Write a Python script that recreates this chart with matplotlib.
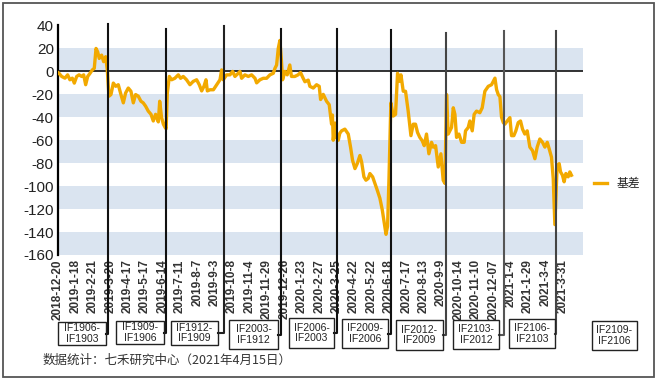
import matplotlib
matplotlib.use("Agg")
import matplotlib.pyplot as plt
from matplotlib.patches import Rectangle
from matplotlib.lines import Line2D

# ---------------- data ----------------
# trading-day index (0 = 2018-12-20) and basis value
day_index = [0, 1, 4, 7.6, 10.5, 13, 15.6, 17.8, 20.4, 23, 25.8, 28, 30.2, 32.4, 35, 37.5, 39.6,
             41.5, 43.3, 45, 47.6, 49.8, 52, 53.8, 55.6, 57.8, 60.4, 63, 65.8, 68.7, 71.3, 73.8,
             76.7, 79.6, 82.2, 84.7, 87.6, 90.5, 93, 95.6, 98.5, 101.5, 104, 106.5, 109.5, 111,
             113, 115, 117,
             118, 119.3, 121.5, 124, 127.5, 131.3, 133.8, 136.7, 140.3, 144, 147.6, 151.3, 154.2,
             156.8, 159.3, 161.5, 163, 166, 169.6, 173.2, 176.8, 178.6, 180.4, 184, 187.7, 190.6,
             193.1, 196.8, 198.6, 200.4, 204, 207.7, 211.3, 215, 216.8, 220.4, 224, 227.7, 231.3,
             235, 236.8, 238.6, 240.4, 242.2,
             243.8, 245.1, 247.7, 250.2, 253, 254.8, 258.5, 262, 264.7, 267.6, 269.5, 273.1, 274.9,
             278.6, 282.2, 285.1, 286.6, 289.5, 293.1, 296, 298.6, 299.5, 300.4, 302.5, 304, 305.9,
             307.5, 309.5, 313.1, 316.8, 319.3, 321.5, 324.1, 326.6, 329.5, 331.4, 333.9, 336.1,
             338.6, 340.4, 343.4, 345.9, 348.4, 351.3, 353.9, 356.1, 358, 359.7, 361.2,
             363.3, 365.9, 368.4, 370.6, 372.4, 374.3, 376.8, 379.3, 382.2, 385.2, 387.7, 390.2,
             392.4, 394.9, 397.5, 399.7, 402.2, 404.8, 407.7, 409.5, 412.1, 415, 417.9, 420.4,
             422.3, 424.1, 425.9, 427.7, 429.5, 431.4, 433.2, 435, 437.6, 440.5, 443.3, 444.8,
             447.7, 449.5, 452.1, 454.2, 456.8, 460.4, 463, 465.9, 469.6, 473.2, 476.9, 478.7,
             480.5, 482.3, 484.1, 486,
             487.7, 490.3, 493.2, 495, 497.5, 499.7, 502.3, 504.8, 507, 509.5, 512.1, 515, 517.9,
             520.5, 523, 525.9, 528.8, 531.4, 534, 536.1, 538.6, 540.5, 542.3, 543.4, 544.8, 547,
             548.5, 550.6, 552.4, 554.3, 556.8, 558.6, 560.4]

basis = [-1, -1.6, -4.4, -5.9, -3, -7.3, -5.9, -10.2, -4.4, -3, -4.4, -3, -11.6, -4.4, -1.6, 1.3, 2.7,
         20, 17, 11.3, 14.2, 8.5, 12.8, 1.3, -21.6, -20.2, -10.2, -13, -11.6, -20.2, -27.4, -18.8,
         -14.5, -17.3, -27.4, -20.2, -21.6, -26, -27.4, -30.3, -34.6, -37.4, -43.2, -37.4, -44, -26,
         -40, -46, -49,
         -50, -19, -4.4, -7.3, -6, -3, -6, -4.4, -7.3, -11.6, -8.7, -7.3, -11.6,
         -17, -13, -7.3, -17, -16, -16, -11.6, -7.3, 1.3, -7.3, -3, -3, 0,
         -4.4, -1.6, 0, -6, -3, -4.4, -3, -6, -10, -7.3, -6, -6, -3,
         -1.6, 2.7, 5.6, 20, 27,
         10, -7.3, 0, -3, 5.6, -4.4, -4.4, -3, -1, -6, -9, -7.6, -13,
         -14.5, -11.6, -13, -24.5, -20, -26, -29, -46, -38, -60, -45, -58, -60,
         -54, -51.8, -50.3, -54.6, -66, -77.5, -84.7, -80.4, -73.3, -79, -91.9, -94.8,
         -93.3, -89, -91.9, -97.6, -103.4, -110.5, -120.6, -132, -142, -134.9, -94.8,
         -27.4, -38.9, -37.4, -1.6, -8.7, -3, -17.3, -17.3, -34.6, -56, -46, -46,
         -53.2, -57.5, -60.4, -64.7, -54.6, -71.8, -61.8, -66, -64.7, -83.3, -71.8, -94.8,
         -97.6, -20.2, -54.6, -51.8, -48.9, -31.7, -37.4, -57.5, -54.6, -61.8, -61.8, -51.8,
         -48.9, -43.2, -51.8, -37.4, -34.6, -36, -31.7, -17.3, -13, -11.6, -5.9, -15.9,
         -20.2, -22, -40, -44.6,
         -46, -43.2, -40.3, -56, -56, -51.8, -44.6, -43.2, -50.3, -54.6, -51.8, -66, -69,
         -76.1, -66, -58.9, -61.8, -66, -61.8, -67.5, -74.7, -93.3, -133.5, -110.5, -81.9, -80.4,
         -87.6, -90.5, -96.2, -89, -91.9, -87.6, -90.5]

tick_labels = ["2018-12-20", "2019-1-18", "2019-2-21", "2019-3-20", "2019-4-17", "2019-5-17",
               "2019-6-14", "2019-7-11", "2019-8-7", "2019-9-3", "2019-10-8", "2019-11-4",
               "2019-11-29", "2019-12-26", "2020-1-23", "2020-2-27", "2020-3-25", "2020-4-22",
               "2020-5-22", "2020-6-18", "2020-7-17", "2020-8-13", "2020-9-9", "2020-10-14",
               "2020-11-10", "2020-12-07", "2021-1-4", "2021-1-29", "2021-3-4", "2021-3-31"]
tick_step = 19  # trading days between labels

# contract roll days (trading-day index) and spread contract labels
roll_index = [54.5, 118, 181, 243, 305, 363, 423, 487, 544]
contract_labels = ["IF1906-\nIF1903", "IF1909-\nIF1906", "IF1912-\nIF1909", "IF2003-\nIF1912",
                   "IF2006-\nIF2003", "IF2009-\nIF2006", "IF2012-\nIF2009", "IF2103-\nIF2012",
                   "IF2106-\nIF2103", "IF2109-\nIF2106"]

series_name = "基差"
source_text = "数据统计：七禾研究中心（2021年4月15日）"

# ---------------- layout / style ----------------
W, H = 658, 381
LINE_COLOR = "#F2A900"
BAND_COLOR = "#dae4f0"
TXT = "#222222"

# box geometry in pixels (x0, x1, y0, y1), y from top
boxes_px = [(58, 106, 322, 345), (116, 164, 321, 344), (171, 218, 321, 345), (229, 278, 320, 349),
            (289, 334, 318, 348), (342, 388, 319, 348), (396, 443, 320, 350), (453, 499, 320, 349),
            (509, 555, 319, 348), (592, 637, 321, 350)]
roll_top_px = [24, 29, 26, 29, 29, 30, 33, 31, 31]
roll_colors = ["#111111", "#111111", "#222222", "#111111", "#111111", "#111111", "#444444",
               "#555555", "#444444"]

plt.rcParams['font.family'] = ['Liberation Sans', 'Noto Sans CJK SC', 'DejaVu Sans']

fig = plt.figure(figsize=(W / 100, H / 100), dpi=100)
fig.patch.set_facecolor("white")


def fx(x):
    return x / W


def fy(y):
    return 1 - y / H


ax_left, ax_right, ax_top, ax_bot = 58, 583, 25.5, 255
ax = fig.add_axes([fx(ax_left), fy(ax_bot), (ax_right - ax_left) / W, (ax_bot - ax_top) / H])
ax.set_xlim(0, 573)
ax.set_ylim(-160, 40)

for lo in (0, -40, -80, -120, -160):
    ax.axhspan(lo, lo + 20, color=BAND_COLOR, lw=0, zorder=0)
ax.axhline(0, color="#222222", lw=1.3, zorder=1)

line, = ax.plot(day_index, basis, color=LINE_COLOR, lw=2.4, zorder=4, solid_joinstyle="round",
                label=series_name)

for s in ("top", "right", "bottom"):
    ax.spines[s].set_visible(False)
ax.spines["left"].set_color("black")
ax.spines["left"].set_linewidth(1.6)
ax.spines["left"].set_bounds(-160, 40.5)

ax.set_yticks(range(-160, 41, 20))
ax.set_yticklabels([str(v) for v in range(-160, 41, 20)])
ax.tick_params(axis="y", length=0, pad=3, labelsize=11, labelcolor=TXT)

ax.set_xticks([i * tick_step for i in range(len(tick_labels))])
ax.set_xticklabels(tick_labels, rotation=90, fontsize=8.5, fontweight="bold", color="#333333")
ax.tick_params(axis="x", length=0, pad=3)

# roll lines going down to their contract boxes
fig.canvas.draw()
for k, r in enumerate(roll_index):
    xd = ax.transData.transform((r, 0))[0]  # display pixels from left
    x0, x1, y0, y1 = boxes_px[k]
    ym = (y0 + y1) / 2
    top = roll_top_px[k]
    fig.add_artist(Line2D([fx(xd), fx(xd), fx(x1)], [fy(top), fy(ym), fy(ym)],
                          color=roll_colors[k], lw=1.5, zorder=5))

# contract boxes
for k, lab in enumerate(contract_labels):
    x0, x1, y0, y1 = boxes_px[k]
    fig.add_artist(Rectangle((fx(x0), fy(y1)), fx(x1 - x0), (y1 - y0) / H,
                             transform=fig.transFigure, fill=False, ec="#222222", lw=1.0,
                             zorder=5))
    fig.text(fx((x0 + x1) / 2), fy((y0 + y1) / 2), lab, ha="center", va="center",
             fontsize=7.5, color=TXT, linespacing=1.05)

# legend
fig.legend(handles=[line], loc="center left", bbox_to_anchor=(fx(594), fy(184)),
           frameon=False, handlelength=1.1, handletextpad=0.8,
           borderpad=0, borderaxespad=0, labelcolor=TXT,
           prop={'family': ['Noto Sans CJK SC'], 'size': 8.5})

# source
fig.text(fx(43), fy(360), source_text, ha="left", va="center", fontsize=9, color="#333333",
         family=['Noto Sans CJK SC', 'DejaVu Sans'])

# outer border
fig.add_artist(Rectangle((fx(3), fy(377)), fx(651), (377 - 3) / H, transform=fig.transFigure,
                         fill=False, ec="#555555", lw=1.3))

fig.savefig("out.png", dpi=100)
